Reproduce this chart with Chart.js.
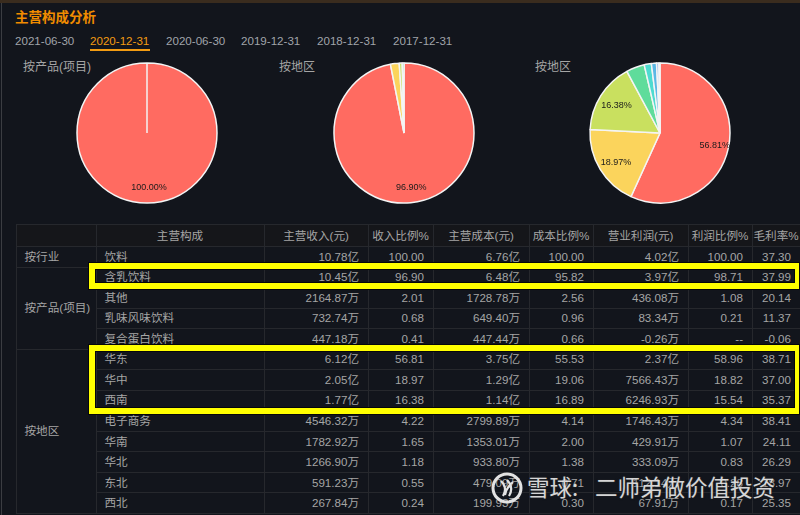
<!DOCTYPE html>
<html lang="zh">
<head>
<meta charset="utf-8">
<script src="https://cdn.jsdelivr.net/npm/chart.js@4"></script>
<style>
html,body{margin:0;padding:0;background:#12151c;}
body{width:800px;height:515px;position:relative;overflow:hidden;font-family:"Liberation Sans","Noto Sans CJK SC",sans-serif;font-size:11.6px;color:#a5a5a5;}
.topbar{position:absolute;left:0;top:0;width:800px;height:3px;background:#3a2c1e;}
.leftbar{position:absolute;left:1px;top:3px;width:1px;height:512px;background:#3b3d42;}
.title{position:absolute;left:15px;top:9px;font-size:13.5px;font-weight:bold;color:#f08c00;line-height:18px;}
.tab{position:absolute;top:34px;line-height:14px;color:#a0a4aa;}
.tab.on{color:#f29b12;}
.under{position:absolute;left:90px;top:49px;width:60px;height:2px;background:#f29b12;}
.pt{position:absolute;top:59px;line-height:16px;font-size:12px;color:#a5a5a5;}
canvas{position:absolute;top:53px;}
table{position:absolute;left:15.5px;top:224px;border-collapse:collapse;table-layout:fixed;width:784px;}
td,th{border:1px solid #26282d;padding:0;box-sizing:border-box;overflow:hidden;white-space:nowrap;font-weight:normal;line-height:16px;}
tr{height:20.54px;}
tr.h{height:22px;}
th{background:#15161a;text-align:center;font-size:11.6px;}
td.n{text-align:right;padding-right:8.5px;}
td.c{padding-left:8px;}
td.g{padding-left:8px;}
.box{position:absolute;border:6px solid #ffff00;box-sizing:border-box;box-shadow:0 0 0 1px #05060a,inset 0 0 0 1px #05060a;}
.mark{position:absolute;top:470px;font-size:22.5px;line-height:32px;color:#e6e6e6;white-space:nowrap;text-shadow:0 0 2px #333;opacity:.92;font-family:"Noto Sans CJK SC",sans-serif;}
svg.logo{position:absolute;left:488px;top:470px;}
</style>
</head>
<body>
<div class="topbar"></div><div class="leftbar"></div>
<div class="title">主营构成分析</div>
<div id="tabs"></div>
<div class="under"></div>
<div id="titles"></div>
<canvas id="p1" width="160" height="160" style="left:67px;width:160px;height:160px"></canvas>
<canvas id="p2" width="160" height="160" style="left:324px;width:160px;height:160px"></canvas>
<canvas id="p3" width="160" height="160" style="left:580px;width:160px;height:160px"></canvas>
<table id="tb"></table>
<div class="box" style="left:89px;top:263px;width:710px;height:26px;border-right-width:4px;"></div>
<div class="box" style="left:89px;top:345px;width:710px;height:69px;border-right-width:4px;"></div>
<svg class="logo" width="38" height="36" viewBox="0 0 38 36"><circle cx="19" cy="18" r="14" fill="none" stroke="#e2e2e2" stroke-width="3"/><path d="M13 11c5 5 5 10 2 15M19 10c5 5 5 11 2 16M25 12c-5 4-7 8-8 13" fill="none" stroke="#e2e2e2" stroke-width="2.2"/></svg>
<div class="mark" style="left:527px">雪球:</div>
<div class="mark" style="left:595px">二师弟做价值投资</div>
<script>
const dates = ["2021-06-30","2020-12-31","2020-06-30","2019-12-31","2018-12-31","2017-12-31"];
const dateX = [15,90,166,241,317,393];
const headers = ["主营构成","主营收入(元)","收入比例%","主营成本(元)","成本比例%","营业利润(元)","利润比例%","毛利率%"];
const colWidths = [80,168,104,65,96,64,95,64,48];
const names = ["饮料","含乳饮料","其他","乳味风味饮料","复合蛋白饮料","华东","华中","西南","电子商务","华南","华北","东北","西北"];
const revenue = ["10.78亿","10.45亿","2164.87万","732.74万","447.18万","6.12亿","2.05亿","1.77亿","4546.32万","1782.92万","1266.90万","591.23万","267.84万"];
const revenuePct = ["100.00","96.90","2.01","0.68","0.41","56.81","18.97","16.38","4.22","1.65","1.18","0.55","0.24"];
const cost = ["6.76亿","6.48亿","1728.78万","649.40万","447.44万","3.75亿","1.29亿","1.14亿","2799.89万","1353.01万","933.80万","479.09万","199.93万"];
const costPct = ["100.00","95.82","2.56","0.96","0.66","55.53","19.06","16.89","4.14","2.00","1.38","0.71","0.30"];
const profit = ["4.02亿","3.97亿","436.08万","83.34万","-0.26万","2.37亿","7566.43万","6246.93万","1746.43万","429.91万","333.09万","112.14万","67.91万"];
const profitPct = ["100.00","98.71","1.08","0.21","--","58.96","18.82","15.54","4.34","1.07","0.83","0.28","0.17"];
const margin = ["37.30","37.99","20.14","11.37","-0.06","38.71","37.00","35.37","38.41","24.11","26.29","18.97","25.35"];
const groups = [["按行业",1],["按产品(项目)",4],["按地区",8]];
const pieTitles = ["按产品(项目)","按地区","按地区"];
const pieTitleX = [23,279,535];
const pieProduct = [100];
const pieRegionA = [96.90,2.01,0.68,0.41];
const pieRegionB = [56.81,18.97,16.38,4.22,1.65,1.18,0.55,0.24];
const pieColors = ["#ff6b61","#fbd45c","#c9e05f","#5fdc9b","#4edbd0","#5cb8e5","#8fb5ef","#c3c8f5"];

document.getElementById('tabs').innerHTML = dates.map((d,i)=>`<div class="tab${i==1?' on':''}" style="left:${dateX[i]}px">${d}</div>`).join('');
document.getElementById('titles').innerHTML = pieTitles.map((t,i)=>`<div class="pt" style="left:${pieTitleX[i]}px">${t}</div>`).join('');

let html = '<colgroup>'+colWidths.map(w=>`<col style="width:${w}px">`).join('')+'</colgroup>';
html += '<tr class="h"><th></th>'+headers.map(h=>`<th>${h}</th>`).join('')+'</tr>';
let gi=0, left=0;
names.forEach((n,i)=>{
  html+='<tr>';
  if(left===0){ html+=`<td class="g" rowspan="${groups[gi][1]}">${groups[gi][0]}</td>`; left=groups[gi][1]; gi++; }
  left--;
  html+=`<td class="c">${n}</td>`+[revenue,revenuePct,cost,costPct,profit,profitPct,margin].map(a=>`<td class="n">${a[i]}</td>`).join('');
  html+='</tr>';
});
document.getElementById('tb').innerHTML = html;

const pctLabels = {
  id:'pctLabels',
  afterDatasetsDraw(chart){
    const {ctx}=chart; const ds=chart.data.datasets[0];
    const total=ds.data.reduce((a,b)=>a+b,0);
    ctx.save();
    ctx.font='9px "Liberation Sans"';ctx.fillStyle='#1b1b1b';ctx.textAlign='center';ctx.textBaseline='middle';
    chart.getDatasetMeta(0).data.forEach((arc,i)=>{
      const pct=ds.data[i]/total*100;
      if(pct<10)return;
      const p=arc.getProps(['startAngle','endAngle','x','y','outerRadius'],true);
      const mid=(p.startAngle+p.endAngle)/2, r=p.outerRadius*0.77;
      ctx.fillText(pct.toFixed(2)+'%',p.x+2+Math.cos(mid)*r,p.y+1+Math.sin(mid)*r);
    });
    ctx.restore();
  }
};
function pie(id,data){
  new Chart(document.getElementById(id),{
    type:'pie',
    data:{labels:data.map(String),datasets:[{data,backgroundColor:pieColors.slice(0,data.length),borderColor:'#f4f4f4',borderWidth:1.5}]},
    options:{responsive:false,animation:false,radius:70,layout:{padding:0},
      plugins:{legend:{display:false},tooltip:{enabled:false}}},
    plugins:[pctLabels]
  });
}
pie('p1',pieProduct);pie('p2',pieRegionA);pie('p3',pieRegionB);
</script>
</body>
</html>
